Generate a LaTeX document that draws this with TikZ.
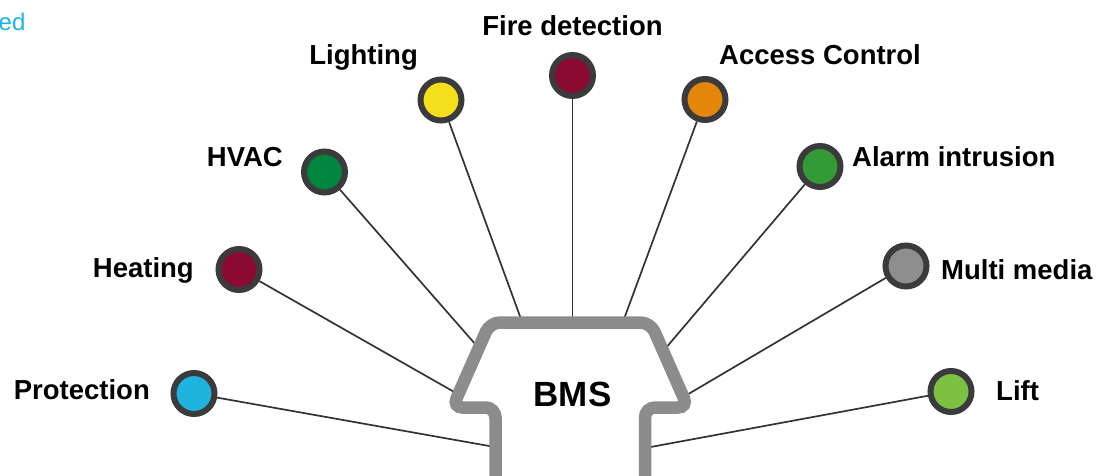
\documentclass[tikz,border=0pt]{standalone}
\usepackage{fontspec}
\setmainfont{Liberation Sans}
\definecolor{ring}{HTML}{3B3B3D}
\definecolor{cProt}{HTML}{1FB4DE}
\definecolor{cMaroon}{HTML}{8A0A32}
\definecolor{cHvac}{HTML}{00853F}
\definecolor{cYellow}{HTML}{F3E01A}
\definecolor{cOrange}{HTML}{E3860A}
\definecolor{cAlarm}{HTML}{339A35}
\definecolor{cGray}{HTML}{8E8E8E}
\definecolor{cLift}{HTML}{7DC142}
\definecolor{shapegray}{HTML}{8C8C8C}
\definecolor{linegray}{HTML}{333333}
\definecolor{topcyan}{HTML}{1AB5E6}
\tikzset{
  dot/.style={circle, draw=ring, line width=6pt, minimum size=41pt, inner sep=0pt, fill=#1},
  lbl/.style={inner sep=0pt, font=\fontsize{27.5pt}{30pt}\selectfont\bfseries},
  conn/.style={draw=linegray, line width=1.7pt},
  bms/.style={draw=shapegray, line width=12.5pt, rounded corners=10pt}
}
\begin{document}
\begin{tikzpicture}[x=1pt,y=-1pt]
\useasboundingbox[fill=white] (0,0) rectangle (1114,476);
% top-left cut text
\node[anchor=base west, inner sep=0pt, text=topcyan, font=\fontsize{24pt}{26pt}\selectfont] (edtxt) at (-1.5,31) {ed};
% circles
\node[dot=cProt] (prot) at (194,393.5) {};
\node[dot=cMaroon] (heat) at (239,269.5) {};
\node[dot=cHvac] (hvac) at (324.5,172) {};
\node[dot=cYellow] (light) at (441,100) {};
\node[dot=cMaroon] (fire) at (572.5,75.5) {};
\node[dot=cOrange] (access) at (705,99.5) {};
\node[dot=cAlarm] (alarm) at (820,166.5) {};
\node[dot=cGray] (multi) at (906,266) {};
\node[dot=cLift] (lift) at (951,391.5) {};
% labels
\node[lbl, anchor=base east] (lprot) at (150,399) {Protection};
\node[lbl, anchor=base east] (lheat) at (194,277) {Heating};
\node[lbl, anchor=base east] (lhvac) at (283,167) {HVAC};
\node[lbl, anchor=base east] (llight) at (418,65) {Lighting};
\node[lbl, anchor=base] (lfire) at (572.5,36) {Fire detection};
\node[lbl, anchor=base west] (laccess) at (719,65) {Access Control};
\node[lbl, anchor=base west] (lalarm) at (852,167) {Alarm intrusion};
\node[lbl, anchor=base west] (lmulti) at (941,279) {Multi media};
\node[lbl, anchor=base west] (llift) at (996,400) {Lift};
% connector ends on BMS outline
\coordinate (eprot) at (492,446.5);
\coordinate (eheat) at (456,393);
\coordinate (ehvac) at (476,345);
\coordinate (elight) at (521,319);
\coordinate (efire) at (572.5,320);
\coordinate (eaccess) at (624,319);
\coordinate (ealarm) at (665,349);
\coordinate (emulti) at (685,396);
\coordinate (elift) at (648,447.5);
\draw[conn] (prot) -- (eprot);
\draw[conn] (heat) -- (eheat);
\draw[conn] (hvac) -- (ehvac);
\draw[conn] (light) -- (elight);
\draw[conn] (fire) -- (efire);
\draw[conn] (access) -- (eaccess);
\draw[conn] (alarm) -- (ealarm);
\draw[conn] (multi) -- (emulti);
\draw[conn] (lift) -- (elift);
% BMS outline
\draw[bms] (495.5,495) -- (495.5,407.5) -- (452.5,407.5) -- (490,322.5) -- (650.5,322.5) -- (688,407.5) -- (645,407.5) -- (645,495);
\node[inner sep=0pt, anchor=base, font=\fontsize{35pt}{38pt}\selectfont\bfseries] (bmstxt) at (572.5,406) {BMS};
\end{tikzpicture}
\end{document}
